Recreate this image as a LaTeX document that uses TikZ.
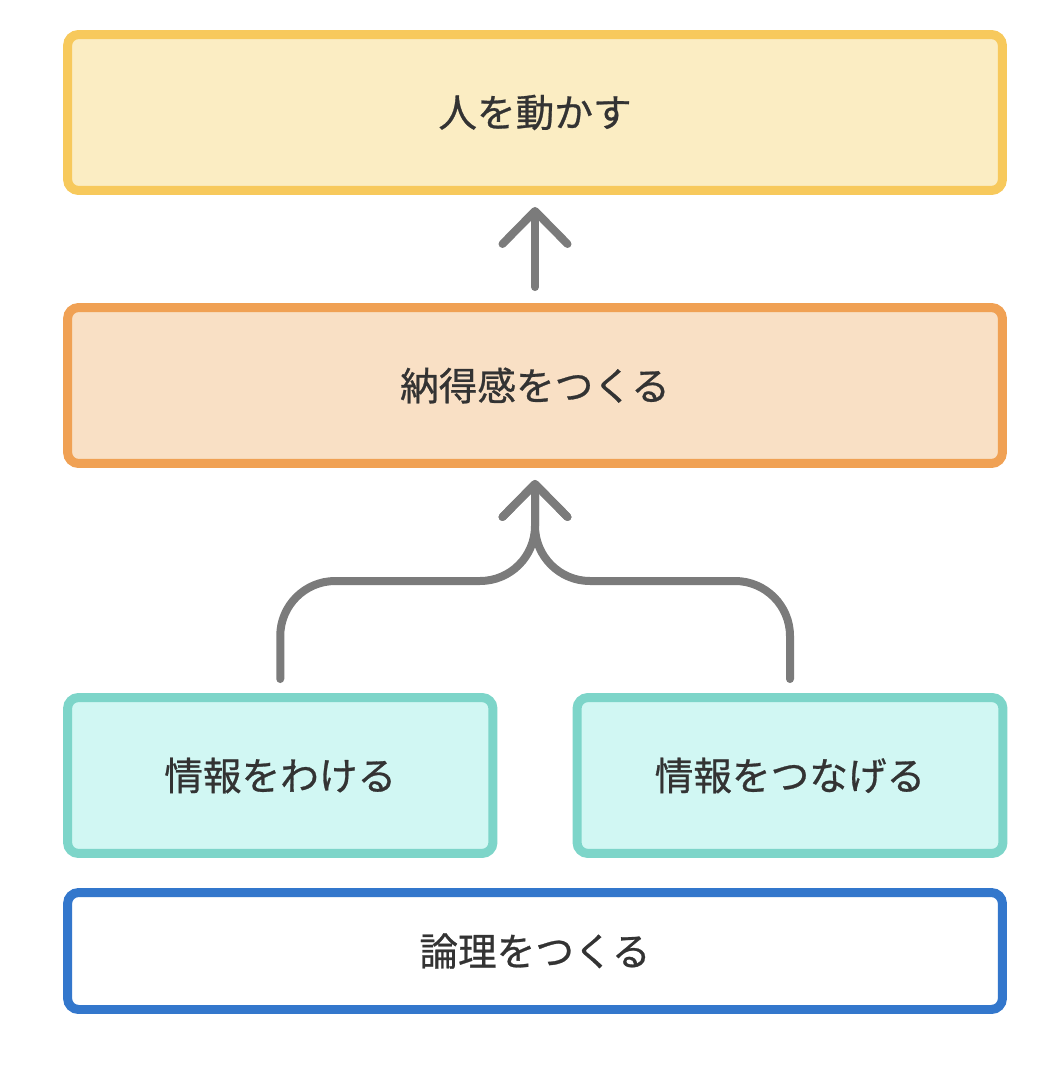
\documentclass[tikz,border=0pt]{standalone}
\usepackage{fontspec}
\setmainfont{Noto Sans CJK JP}[FakeBold=0.7]
\usetikzlibrary{arrows.meta, calc}
\definecolor{bordeAmarillo}{HTML}{F7C95C}
\definecolor{fondoAmarillo}{HTML}{FBEDC3}
\definecolor{bordeNaranja}{HTML}{F0A154}
\definecolor{fondoNaranja}{HTML}{F9E0C5}
\definecolor{bordeTurquesa}{HTML}{7DD5C9}
\definecolor{fondoTurquesa}{HTML}{D1F7F3}
\definecolor{bordeAzul}{HTML}{3377CC}
\definecolor{gris}{HTML}{7B7B7B}
\definecolor{texto}{HTML}{333333}

\begin{document}
\begin{tikzpicture}[x=0.02cm, y=-0.02cm,
  caja/.style={draw, line width=0.18cm, rounded corners=0.22cm, minimum width=18.7cm,
    minimum height=3.12cm, inner sep=0pt, text=texto, font=\fontsize{22}{26}\selectfont},
  flecha/.style={gris, line width=0.16cm, line cap=round, line join=round,
    -{Straight Barb[length=0.66cm, width=1.3cm, round]}}]
\useasboundingbox (0,0) rectangle (1060,1068);
% Cajas
\node[caja, draw=bordeAmarillo, fill=fondoAmarillo] (mover) at (535,112.5) {人を動かす};
\node[caja, draw=bordeNaranja, fill=fondoNaranja] (conviccion) at (535,385.5) {納得感をつくる};
\node[caja, draw=bordeTurquesa, fill=fondoTurquesa, minimum width=8.51cm] (separar) at (280.25,775.5) {情報をわける};
\node[caja, draw=bordeTurquesa, fill=fondoTurquesa, minimum width=8.52cm] (unir) at (790,775.5) {情報をつなげる};
\node[caja, draw=bordeAzul, fill=white, minimum height=2.34cm] (logica) at (535,951) {論理をつくる};
% Flechas
\coordinate (union) at (535,581);
\draw[flecha, shorten <=0.32cm, shorten >=0.24cm] (conviccion.north) -- (mover.south);
\draw[flecha, rounded corners=1.1cm, shorten <=0.28cm, shorten >=0.24cm]
  (separar.north) |- (union) -- (conviccion.south);
\draw[flecha, rounded corners=1.1cm, shorten <=0.28cm, shorten >=0.24cm]
  (unir.north) |- (union) -- (conviccion.south);
\end{tikzpicture}
\end{document}
